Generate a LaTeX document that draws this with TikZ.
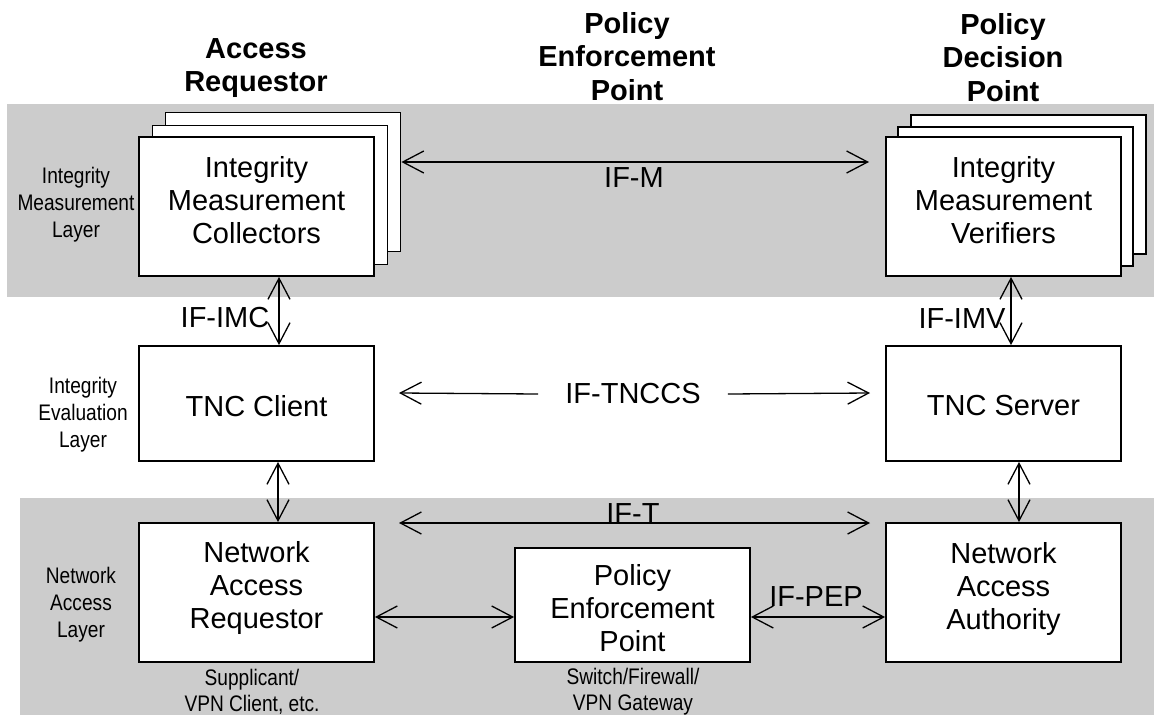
\documentclass[tikz,border=0pt]{standalone}
\usepackage{fontspec}
\setmainfont{Liberation Sans}
\newfontfamily\narrowfont[FakeStretch=0.85]{Liberation Sans}
\usetikzlibrary{arrows.meta}
\definecolor{bandgray}{RGB}{204,204,204}
\begin{document}
\begin{tikzpicture}[x=1pt,y=-1pt,
  >={Straight Barb[length=21pt,width=22pt]},
  box/.style={draw=black,line width=1.8pt,fill=white,inner sep=0pt,minimum width=235pt},
  boxtext/.style={font=\fontsize{29}{33}\selectfont,align=center},
  iflabel/.style={font=\fontsize{29}{33}\selectfont,inner sep=0pt},
  layerlabel/.style={font=\narrowfont\fontsize{22.5}{27}\selectfont,align=center,inner sep=0pt},
  sublabel/.style={font=\narrowfont\fontsize{22.5}{26}\selectfont,align=center,inner sep=0pt},
  titlelabel/.style={font=\bfseries\fontsize{29}{33.5}\selectfont,align=center,inner sep=0pt},
  link/.style={line width=1.3pt,<->},
  halflink/.style={line width=1.3pt}
]
\useasboundingbox (0,0) rectangle (1154,715);
% layer bands
\fill[bandgray] (7,104) rectangle (1154,297);
\fill[bandgray] (20,498) rectangle (1154,715);

% column titles
\node[titlelabel] (tar) at (256,68) {Access\\Requestor};
\node[titlelabel] (tpep) at (627,56.5) {Policy\\Enforcement\\Point};
\node[titlelabel] (tpdp) at (1003,57.5) {Policy\\Decision\\Point};

% layer labels
\node[layerlabel] (lim) at (76,205) {Integrity\\Measurement\\Layer};
\node[layerlabel] (lie) at (83,415) {Integrity\\Evaluation\\Layer};
\node[layerlabel] (lna) at (81,605) {Network\\Access\\Layer};

% IMC stack
\node[box,minimum height=139pt] (imcb) at (283,182) {};
\node[box,minimum height=139pt] (imcm) at (270,195) {};
\node[box,minimum height=139pt,label={[boxtext,yshift=6.5pt]center:Integrity\\Measurement\\Collectors}] (imc) at (256.5,206.5) {};

% IMV stack
\node[box,minimum height=139pt] (imvb) at (1028.5,184.5) {};
\node[box,minimum height=139pt] (imvm) at (1015.5,196.5) {};
\node[box,minimum height=139pt,label={[boxtext,yshift=6.5pt]center:Integrity\\Measurement\\Verifiers}] (imv) at (1003.5,206.5) {};

% evaluation layer
\node[box,minimum height=115pt,label={[boxtext,yshift=-2.5pt]center:TNC Client}] (tncc) at (256.5,403.5) {};
\node[box,minimum height=115pt,label={[boxtext,yshift=-2.5pt]center:TNC Server}] (tncs) at (1003.5,403.5) {};

% network access layer
\node[box,minimum height=139pt,label={[boxtext,yshift=4.5pt]center:Network\\Access\\Requestor}] (nar) at (256.5,592.5) {};
\node[box,minimum height=114pt,label={[boxtext,yshift=-3pt]center:Policy\\Enforcement\\Point}] (pep) at (632.5,605) {};
\node[box,minimum height=139pt,label={[boxtext,yshift=4pt]center:Network\\Access\\Authority}] (naa) at (1003.5,592.5) {};

% sub labels
\node[sublabel] (snar) at (252,692) {Supplicant/\\VPN Client, etc.};
\node[sublabel] (spep) at (633,692) {Switch/Firewall/\\VPN Gateway};

% helper coordinates
\coordinate (mr) at (869,162);
\coordinate (cimc) at (279,0);
\coordinate (cimv) at (1011,0);
\coordinate (cnar) at (278,0);
\coordinate (cnaa) at (1019,0);
\coordinate (tl) at (399,393);
\coordinate (tr) at (870,393);
\coordinate (ttl) at (399,523);
\coordinate (ttr) at (870,523);
\coordinate (pe) at (0,617);

% interface labels
\node[iflabel] (ifm) at (634,178) {IF-M};
\node[iflabel] (ifimc) at (225,318) {IF-IMC};
\node[iflabel] (ifimv) at (962,319) {IF-IMV};
\node[iflabel,inner xsep=27pt] (iftnccs) at (633,394) {IF-TNCCS};
\node[iflabel] (ift) at (633,514) {IF-T};
\node[iflabel] (ifpep) at (816,597) {IF-PEP};

% connectors
\draw[link] (imcb.east |- mr) -- (mr);
\draw[link] (imc.south -| cimc) -- (tncc.north -| cimc);
\draw[link] (imv.south -| cimv) -- (tncs.north -| cimv);
\draw[halflink,<-] (tl) -- (iftnccs.west);
\draw[halflink,->] (iftnccs.east) -- (tr);
\draw[link] (tncc.south -| cnar) -- (nar.north -| cnar);
\draw[link] (tncs.south -| cnaa) -- (naa.north -| cnaa);
\draw[link] (ttl) -- (ttr);
\draw[link] (nar.east |- pe) -- (pep.west |- pe);
\draw[link] (pep.east |- pe) -- (naa.west |- pe);
\end{tikzpicture}
\end{document}
